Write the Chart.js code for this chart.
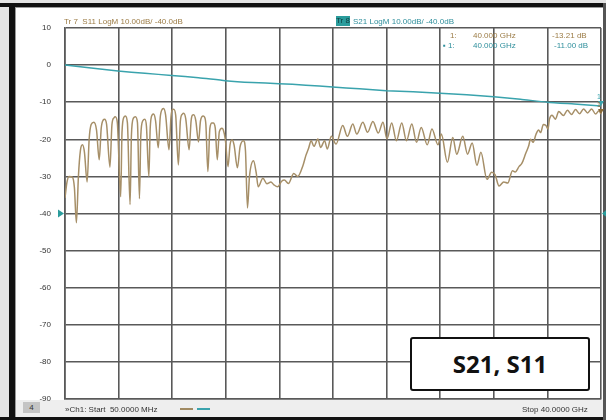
<!DOCTYPE html>
<html>
<head>
<meta charset="utf-8">
<script src="https://cdn.jsdelivr.net/npm/chart.js@4/dist/chart.umd.min.js"></script>
<style>
  html, body { margin: 0; padding: 0; background: #ffffff; }
  #wrap { position: relative; width: 606px; height: 420px; overflow: hidden;
          font-family: "Liberation Sans", Arial, sans-serif; }
  #wrap canvas { position: absolute; left: 0; top: 0; }
  .t { position: absolute; white-space: nowrap; font-size: 8px; line-height: 9px; }
  .s11 { color: #9c7c46; }
  .s21 { color: #2f8f9c; }
  .dark { color: #333333; }
  #trbox { position: absolute; left: 336px; top: 16px; width: 14px; height: 10px;
           background: #2a9c9c; color: #0d3d40; font-size: 8px; line-height: 10px; text-align: center; }
  #chbox { position: absolute; left: 23px; top: 402px; width: 17px; height: 11px;
           background: #c4c4c4; color: #333; font-size: 8px; line-height: 11px; text-align: center; }
  .seg { position: absolute; top: 408px; height: 1.5px; width: 13px; }
  #tag { position: absolute; left: 410px; top: 337px; width: 176px; height: 50px;
         border: 2px solid #111; border-radius: 3px; background: #ffffff;
         font-family: "Open Sans", "Noto Sans", sans-serif; font-weight: 700; font-size: 24px;
         line-height: 50px; text-align: center; color: #111; }
</style>
</head>
<body>
<div id="wrap">
  <canvas id="c" width="606" height="420"></canvas>

  <div class="t s11" style="left:64px; top:17px;">Tr 7&nbsp; S11 LogM 10.00dB/ -40.0dB</div>
  <div id="trbox">Tr 8</div>
  <div class="t s21" style="left:353px; top:17px;">S21 LogM 10.00dB/ -40.0dB</div>

  <div class="t s11" style="left:450px; top:31px;">1:</div>
  <div class="t s11" style="left:473px; top:31px;">40.000 GHz</div>
  <div class="t s11" style="left:552px; top:31px;">-13.21 dB</div>
  <div class="t s21" style="left:443px; top:41px;">▪ 1:</div>
  <div class="t s21" style="left:473px; top:41px;">40.000 GHz</div>
  <div class="t s21" style="left:554px; top:41px;">-11.00 dB</div>

  <div id="chbox">4</div>
  <div class="t dark" style="left:65px; top:405px;">»Ch1: Start&nbsp; 50.0000 MHz</div>
  <div class="seg" style="left:180px; background:#a08a62;"></div>
  <div class="seg" style="left:197px; background:#3aa3ad;"></div>
  <div class="t dark" style="left:522px; top:405px;">Stop 40.0000 GHz</div>

  <div id="tag">S21, S11</div>
</div>

<script>
// Sweep: 50 MHz .. 40 GHz, magnitudes in dB
const s21Freq = [0.05, 2, 4, 6, 8, 10, 12, 14, 16, 18, 20, 22, 24, 26, 28, 30, 32, 34, 36, 38, 40];
const s21Db   = [0, -0.8, -1.6, -2.2, -2.8, -3.4, -4.2, -4.7, -5.0, -5.4, -5.9, -6.4, -6.9, -7.2, -7.6, -8.0, -8.5, -9.2, -10.0, -10.5, -11.0];

const s11Freq = [
  0.05, 0.2, 0.35, 0.6, 0.75, 0.9, 1.05, 1.2, 1.35, 1.5,
  1.7, 1.85, 2.0, 2.2, 2.4, 2.6, 2.75, 2.9, 3.0, 3.15,
  3.4, 3.55, 3.7, 3.8, 3.95, 4.2, 4.3, 4.45, 4.55, 4.7,
  4.9, 5.0, 5.15, 5.3, 5.45, 5.6, 5.7, 5.85, 6.0, 6.12,
  6.3, 6.4, 6.55, 6.65, 6.8, 7.0, 7.15, 7.3, 7.4, 7.55,
  7.8, 7.95, 8.05, 8.15, 8.3, 8.5, 8.65, 8.8, 8.9, 9.05,
  9.3, 9.45, 9.55, 9.65, 9.8, 10.0, 10.15, 10.35, 10.45, 10.55,
  10.7, 10.85, 11.0, 11.1, 11.25, 11.4, 11.55, 11.75, 11.85, 12.0,
  12.2, 12.35, 12.5, 12.65, 12.9, 13.1, 13.35, 13.5, 13.65, 13.8,
  14.1, 14.3, 14.45, 14.8, 15.1, 15.4, 15.6, 15.9, 16.2, 16.4,
  16.7, 17.1, 17.4, 17.8, 18.0, 18.2, 18.4, 18.6, 18.9, 19.1,
  19.4, 19.6, 19.9, 20.25, 20.75, 21.1, 21.5, 21.8, 22.25, 22.6,
  23.0, 23.4, 23.75, 24.05, 24.4, 24.75, 25.15, 25.5, 25.9, 26.25,
  26.6, 27.05, 27.4, 27.85, 28.1, 28.55, 28.95, 29.25, 29.7, 30.05,
  30.4, 30.75, 31.05, 31.5, 31.85, 32.1, 32.4, 32.75, 33.05, 33.4,
  33.6, 33.9, 34.1, 34.4, 34.6, 34.75, 34.95, 35.15, 35.35, 35.5,
  35.7, 35.9, 36.05, 36.15, 36.35, 36.6, 36.85, 37.2, 37.5, 37.8,
  38.1, 38.4, 38.7, 39.0, 39.3, 39.6, 39.85, 40.0
];
const s11Db = [
  -35.8, -31.5, -30.0, -30.2, -33.0, -42.5, -30.0, -23.0, -21.5, -23.5,
  -31.5, -20.0, -16.0, -15.4, -17.5, -25.5, -17.0, -14.8, -14.6, -16.0,
  -27.5, -16.0, -14.2, -13.9, -15.5, -35.5, -18.0, -14.0, -13.7, -15.5,
  -37.6, -19.0, -14.3, -13.9, -15.5, -36.0, -19.0, -15.0, -14.6, -16.5,
  -30.0, -17.0, -13.4, -13.2, -15.0, -22.3, -14.0, -11.9, -11.7, -13.5,
  -22.8, -14.0, -12.0, -11.9, -13.5, -26.9, -15.0, -13.2, -13.0, -14.5,
  -22.8, -15.0, -13.5, -13.4, -15.0, -20.7, -15.0, -13.7, -14.0, -16.0,
  -28.7, -17.0, -15.6, -15.6, -17.0, -25.5, -18.0, -17.0, -17.5, -20.0,
  -27.4, -21.5, -20.2, -21.5, -27.7, -22.0, -20.4, -23.0, -38.5, -30.0,
  -25.8, -29.0, -32.8, -30.5, -32.0, -31.5, -32.2, -32.8, -31.3, -31.0,
  -31.9, -29.2, -30.0, -26.9, -24.4, -22.5, -20.4, -21.9, -19.9, -22.2,
  -20.4, -22.6, -19.2, -21.3, -16.3, -19.2, -15.9, -18.6, -15.4, -18.1,
  -15.2, -18.3, -15.4, -19.9, -15.6, -20.4, -15.6, -20.4, -15.9, -20.8,
  -16.8, -21.5, -17.2, -21.5, -18.6, -26.2, -19.5, -24.0, -19.2, -24.0,
  -21.0, -27.0, -23.5, -30.8, -28.9, -29.5, -32.6, -31.5, -31.8, -28.5,
  -28.8, -27.3, -26.5, -23.7, -21.9, -20.0, -20.8, -18.7, -17.5, -18.2,
  -16.0, -16.3, -17.2, -14.7, -13.5, -14.6, -12.5, -13.6, -12.2, -13.3,
  -12.0, -13.1, -11.8, -12.9, -11.8, -13.2, -12.3, -13.21
];

const yTicks = [10, 0, -10, -20, -30, -40, -50, -60, -70, -80, -90];
const refLevel = -40;
const markerFreq = 40;
const markerS11 = -13.21;
const markerS21 = -11.00;

const S11_COLOR = '#a68f68';
const S21_COLOR = '#3aa3ad';
const GRID = '#595959';

const toXY = (xs, ys) => xs.map((x, i) => ({ x: x, y: ys[i] }));

// Instrument frame, status bar and reference/marker glyphs
const framePlugin = {
  id: 'frame',
  beforeDraw(chart) {
    const ctx = chart.ctx;
    ctx.save();
    ctx.fillStyle = '#e4e4e4';
    ctx.fillRect(0, 0, 606, 420);
    ctx.fillStyle = '#ffffff';
    ctx.fillRect(16, 8, 587, 392);
    ctx.fillStyle = '#eeeeee';
    ctx.fillRect(16, 400, 587, 17);
    ctx.fillStyle = '#111111';
    ctx.fillRect(0, 3, 606, 4);
    ctx.fillRect(9, 3, 6, 417);
    ctx.fillRect(0, 417, 606, 3);
    ctx.fillStyle = '#555555';
    ctx.fillRect(603, 3, 3, 417);
    ctx.fillStyle = '#9a9a9a';
    ctx.fillRect(15, 7, 588, 1);
    ctx.fillRect(15, 7, 1, 410);
    ctx.restore();
  },
  afterDraw(chart) {
    const ctx = chart.ctx;
    const xs = chart.scales.x, ys = chart.scales.y;
    const a = chart.chartArea;
    const yr = ys.getPixelForValue(refLevel);
    ctx.save();
    ctx.fillStyle = '#2a9c9c';
    ctx.beginPath();
    ctx.moveTo(a.left - 7, yr - 4); ctx.lineTo(a.left - 1, yr); ctx.lineTo(a.left - 7, yr + 4);
    ctx.closePath(); ctx.fill();
    ctx.beginPath();
    ctx.moveTo(a.right + 6, yr - 4); ctx.lineTo(a.right + 1, yr); ctx.lineTo(a.right + 6, yr + 4);
    ctx.closePath(); ctx.fill();

    const mx = xs.getPixelForValue(markerFreq);
    const pts = [[markerS21, S21_COLOR], [markerS11, '#8a6a36']];
    ctx.font = '7px "Liberation Sans", Arial, sans-serif';
    ctx.textAlign = 'center';
    pts.forEach(([v, c]) => {
      const py = ys.getPixelForValue(v);
      ctx.fillStyle = c;
      ctx.beginPath();
      ctx.moveTo(mx - 3, py - 5); ctx.lineTo(mx + 3, py - 5); ctx.lineTo(mx, py);
      ctx.closePath(); ctx.fill();
      ctx.fillText('1', mx - 2, py - 7);
    });
    ctx.restore();
  }
};

new Chart(document.getElementById('c'), {
  type: 'line',
  data: {
    datasets: [
      {
        label: 'S11',
        data: toXY(s11Freq, s11Db),
        borderColor: S11_COLOR,
        borderWidth: 1.5,
        pointRadius: 0,
        cubicInterpolationMode: 'monotone',
        order: 2
      },
      {
        label: 'S21',
        data: toXY(s21Freq, s21Db),
        borderColor: S21_COLOR,
        borderWidth: 1.5,
        pointRadius: 0,
        tension: 0.2,
        order: 1
      }
    ]
  },
  options: {
    responsive: false,
    animation: false,
    devicePixelRatio: 1,
    layout: { padding: { left: 0, top: 28, right: 5, bottom: 21 } },
    plugins: { legend: { display: false }, tooltip: { enabled: false } },
    scales: {
      x: {
        type: 'linear',
        min: 0.05,
        max: 40,
        afterBuildTicks: (s) => {
          const n = 10, lo = 0.05, hi = 40;
          s.ticks = Array.from({ length: n + 1 }, (_, i) => ({ value: lo + (hi - lo) * i / n }));
        },
        afterFit: (s) => { s.height = 0; },
        ticks: { display: false },
        grid: { color: GRID, lineWidth: 1.6, drawTicks: false },
        border: { color: GRID, width: 1.6 }
      },
      y: {
        min: -90,
        max: 10,
        afterBuildTicks: (s) => { s.ticks = yTicks.map(v => ({ value: v })); },
        afterFit: (s) => { s.width = 65; },
        ticks: {
          color: '#333333',
          padding: 14,
          font: { family: '"Liberation Sans", Arial, sans-serif', size: 8 },
          callback: (v) => String(v)
        },
        grid: { color: GRID, lineWidth: 1.6, drawTicks: false },
        border: { color: GRID, width: 1.6 }
      }
    }
  },
  plugins: [framePlugin]
});
</script>
</body>
</html>
